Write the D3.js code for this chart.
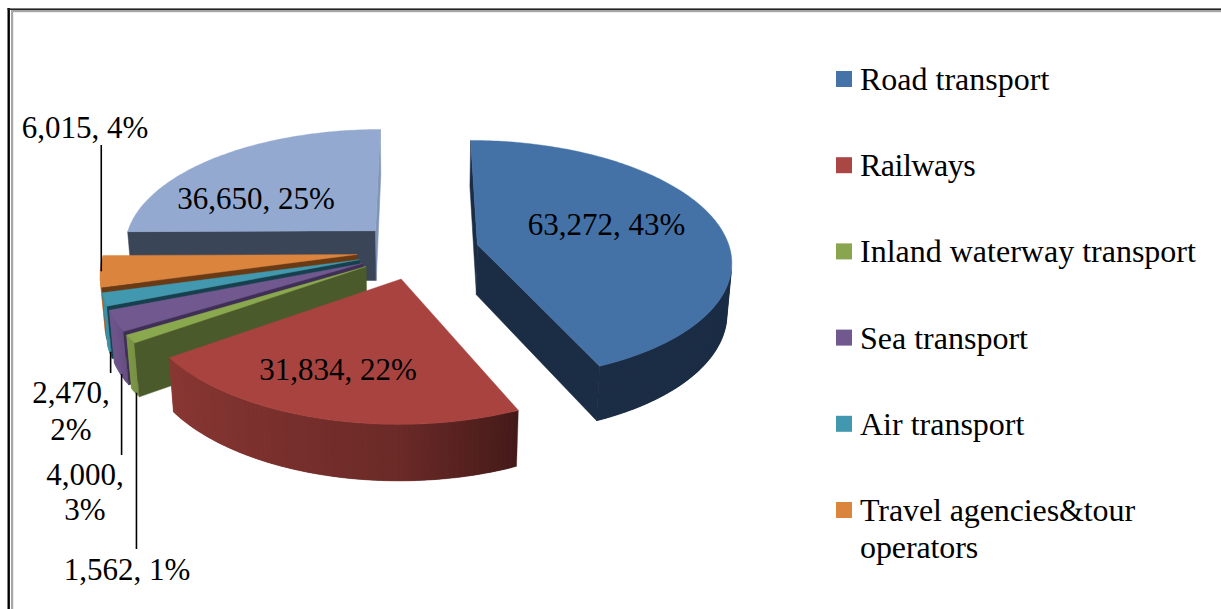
<!DOCTYPE html>
<html>
<head>
<meta charset="utf-8">
<script src="https://cdn.jsdelivr.net/npm/d3@7"></script>
<style>
  html, body { margin: 0; padding: 0; background: #fff; }
  svg { display: block; }
  text { font-family: "Liberation Serif", serif; fill: #000; }
</style>
</head>
<body>
<svg id="chart" width="1221" height="609"></svg>
<script>
// data
const categories = ['Road transport', 'Railways', 'Inland waterway transport', 'Sea transport', 'Air transport', 'Travel agencies&tour\noperators', ''];
const values = [63272, 31834, 1562, 4000, 2470, 6015, 36650];
const topColors = ['#4471a6', '#a8433f', '#8aa84e', '#71588f', '#4198af', '#db843d', '#93a9cf'];
const sideColors = ['#1b2d45', '#431a18', '#4b5a2a', '#3f2e55', '#17404e', '#6a3a15', '#3b4558'];
const legendColors = ['#4572a7', '#aa4643', '#89a54e', '#71588f', '#4198af', '#db843d'];

// label placement: anchor point and line breaks for each slice
const labelLayout = [
    {x: 606.5, y: [235], lines: 1},
    {x: 338, y: [380], lines: 1},
    {x: 127, y: [580], lines: 1},
    {x: 85, y: [485, 520], lines: 2},
    {x: 71, y: [403, 440], lines: 2},
    {x: 85, y: [138], lines: 1},
    {x: 256, y: [209], lines: 1}
];
// where each leader stops, by slice index
const leaderEnds = {2: 549, 3: 455, 4: 373, 5: 145};
// the original legend sets a couple of entries a bit tighter
const legendTracking = {1: -0.5, 5: -0.1};

// camera for the fake 3d pie
const cx = 418, cy = 250.5, radius = 253, explode = 61, thickness = 58;
const sinT = 0.47, cosT = Math.sqrt(1 - sinT * sinT), camDist = 1750;
const camera = {y: -camDist * cosT, z: camDist * sinT};

const svg = d3.select('#chart');

const project = (X, Y, Z) => {
    let w = 1 + (Y * cosT - Z * sinT) / camDist;
    return [cx + X / w, cy - (Y * sinT + Z * cosT) / w];
};

// frame, cut off by the picture on the right and at the bottom
svg.append('rect').attr('x', 7.5).attr('y', 8).attr('width', 2.4).attr('height', 601).attr('fill', '#000');
svg.append('rect').attr('x', 7.5).attr('y', 8.4).attr('width', 1214).attr('height', 1.6).attr('fill', '#222');
svg.append('rect').attr('x', 11).attr('y', 10).attr('width', 2.2).attr('height', 599).attr('fill', '#a6a6a6');
svg.append('rect').attr('x', 11).attr('y', 10).attr('width', 1210).attr('height', 2.2).attr('fill', '#a6a6a6');

const arcs = d3.pie().sort(null)(values);
const total = d3.sum(values);
const line = d3.line();

const slices = arcs.map(a => {
    let mid = (a.startAngle + a.endAngle) / 2;
    return {
        index: a.index,
        start: a.startAngle,
        end: a.endAngle,
        mid: mid,
        ox: explode * Math.sin(mid),
        oy: explode * Math.cos(mid)
    };
});

const rim = (s, ang, z) => project(s.ox + radius * Math.sin(ang), s.oy + radius * Math.cos(ang), z);

const facesCamera = (nx, ny, px, py) =>
    nx * (0 - px) + ny * (camera.y - py) > 0;

// how far the wall shade goes from the dark side colour to the top colour
const wallShade = d3.scaleLinear().domain([156, 180, 235, 245]).range([0, 0.4, 0.7, 0.92]).clamp(true);

const wallColor = (s, ang) => {
    let t = wallShade(ang * 180 / Math.PI);
    return d3.interpolateRgb(sideColors[s.index], topColors[s.index])(t);
};

const drawOrder = slices.slice().sort((a, b) => Math.cos(b.mid) - Math.cos(a.mid));

drawOrder.forEach(s => {
    let g = svg.append('g').attr('class', 'slice');
    let steps = Math.max(2, Math.ceil((s.end - s.start) / (Math.PI / 180)));
    let angles = d3.range(steps + 1).map(i => s.start + (s.end - s.start) * i / steps);

    // outer wall, one strip per degree. each strip runs on under the next one so no seams show
    for (let i = 0; i < steps; i++) {
        let a0 = angles[i], am = (a0 + angles[i + 1]) / 2, a1 = angles[Math.min(i + 2, steps)];
        let px = s.ox + radius * Math.sin(am), py = s.oy + radius * Math.cos(am);
        if (!facesCamera(Math.sin(am), Math.cos(am), px, py)) continue;
        let c = wallColor(s, am);
        g.append('path')
            .attr('d', line([rim(s, a0, 0), rim(s, am, 0), rim(s, a1, 0), rim(s, a1, -thickness), rim(s, am, -thickness), rim(s, a0, -thickness)]) + 'Z')
            .attr('fill', c).attr('stroke', c).attr('stroke-width', 0.3);
    }

    // the two cut faces
    [[s.start, -Math.PI / 2], [s.end, Math.PI / 2]].forEach(([ang, turn]) => {
        let nx = Math.sin(ang + turn), ny = Math.cos(ang + turn);
        if (!facesCamera(nx, ny, s.ox, s.oy)) return;
        let lit = nx > 0.85;
        let c = lit ? d3.interpolateRgb(sideColors[s.index], topColors[s.index])(0.8) : sideColors[s.index];
        g.append('path')
            .attr('d', line([project(s.ox, s.oy, 0), rim(s, ang, 0), rim(s, ang, -thickness), project(s.ox, s.oy, -thickness)]) + 'Z')
            .attr('fill', c).attr('stroke', c).attr('stroke-width', 0.5);
    });

    // top
    let top = [project(s.ox, s.oy, 0)].concat(angles.map(a => rim(s, a, 0)));
    g.append('path').attr('d', line(top) + 'Z').attr('fill', topColors[s.index])
        .attr('stroke', topColors[s.index]).attr('stroke-width', 0.4);
});

// leaders
Object.keys(leaderEnds).forEach(k => {
    let s = slices[k];
    let isUp = leaderEnds[k] < 200;
    let p = rim(s, s.mid, isUp ? 0 : -thickness);
    let x = p[0] + 1.2;
    svg.append('line').attr('x1', x).attr('x2', x)
        .attr('y1', p[1]).attr('y2', leaderEnds[k])
        .attr('stroke', '#000').attr('stroke-width', 1.6);
});

// data labels
const fmt = d3.format(',');
slices.forEach(s => {
    let v = values[s.index];
    let pct = Math.round(v / total * 100) + '%';
    let l = labelLayout[s.index];
    let parts = l.lines === 2 ? [fmt(v) + ',', pct] : [fmt(v) + ', ' + pct];
    parts.forEach((t, i) => {
        svg.append('text').attr('x', l.x).attr('y', l.y[i])
            .attr('text-anchor', 'middle').attr('font-size', 31).text(t);
    });
});

// legend
const legendY = d3.scalePoint().domain(d3.range(6)).range([80, 511]);
categories.filter(c => c).forEach((c, i) => {
    let y = legendY(i);
    svg.append('rect').attr('x', 836).attr('y', y - 9).attr('width', 16).attr('height', 16).attr('fill', legendColors[i]);
    c.split('\n').forEach((t, j) => {
        svg.append('text').attr('x', 860).attr('y', y + 10 + j * 37).attr('font-size', 32)
            .attr('letter-spacing', legendTracking[i] || 0).text(t);
    });
});
</script>
</body>
</html>
